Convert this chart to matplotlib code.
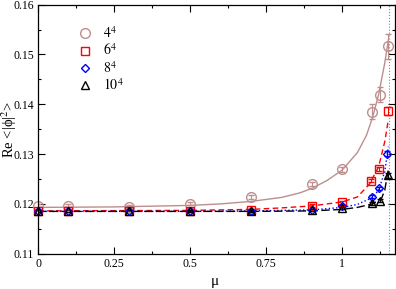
import numpy as np
import matplotlib
matplotlib.use("Agg")
import matplotlib.pyplot as plt
from matplotlib.ticker import MultipleLocator

plt.rcParams['font.family'] = ['Liberation Serif', 'DejaVu Serif']
plt.rcParams['mathtext.fontset'] = 'stix'

# data points
mu_4 = [0.0, 0.1, 0.3, 0.5, 0.7, 0.9, 1.0, 1.099, 1.124, 1.149]
y_4 = [0.1196, 0.1196, 0.1194, 0.1200, 0.1214, 0.1239, 0.1270, 0.1385, 0.1419, 0.1516]
e_4 = [0.0003, 0.0003, 0.0003, 0.0003, 0.0004, 0.0004, 0.0005, 0.0015, 0.0015, 0.0025]

mu_6 = [0.0, 0.1, 0.3, 0.5, 0.7, 0.9, 1.0, 1.094, 1.121, 1.149]
y_6 = [0.1185, 0.1185, 0.1185, 0.1186, 0.1188, 0.1196, 0.1203, 0.1247, 0.1271, 0.1387]
e_6 = [0.0002, 0.0002, 0.0002, 0.0002, 0.0002, 0.0003, 0.0003, 0.0004, 0.0004, 0.0008]

mu_8 = [0.0, 0.1, 0.3, 0.5, 0.7, 0.9, 1.0, 1.099, 1.121, 1.148]
y_8 = [0.1185, 0.1185, 0.1185, 0.1185, 0.1186, 0.1187, 0.1195, 0.1214, 0.1231, 0.1301]
e_8 = [0.0002, 0.0002, 0.0002, 0.0002, 0.0002, 0.0002, 0.0002, 0.0003, 0.0003, 0.0005]

mu_10 = [0.0, 0.1, 0.3, 0.5, 0.7, 0.9, 1.0, 1.099, 1.124, 1.149]
y_10 = [0.1185, 0.1185, 0.1185, 0.1185, 0.1186, 0.1187, 0.1192, 0.1201, 0.1206, 0.1258]
e_10 = [0.0002, 0.0002, 0.0002, 0.0002, 0.0002, 0.0002, 0.0002, 0.0003, 0.0003, 0.0005]

# fit curves
fit_mu_4 = [0.0, 0.25, 0.5, 0.6, 0.7, 0.8, 0.86, 0.9, 0.95, 1.0, 1.05, 1.08, 1.1, 1.12, 1.14, 1.152]
fit_y_4 = [0.1193, 0.1194, 0.1197, 0.1200, 0.1205, 0.1213, 0.1222, 0.1231, 0.1247, 0.1268,
           0.1303, 0.1338, 0.1374, 0.1420, 0.1483, 0.1530]

fit_mu_6 = [0.0, 0.5, 0.7, 0.8, 0.9, 1.0, 1.05, 1.09, 1.12, 1.14, 1.152]
fit_y_6 = [0.1186, 0.1187, 0.1189, 0.1192, 0.1196, 0.1204, 0.1214, 0.1240, 0.1275, 0.1325, 0.1370]

fit_mu_8 = [0.0, 0.5, 0.7, 0.9, 1.0, 1.05, 1.1, 1.12, 1.14, 1.152]
fit_y_8 = [0.1185, 0.1185, 0.1186, 0.1188, 0.1193, 0.1199, 0.1213, 0.1228, 0.1265, 0.1315]

fit_mu_10 = [0.0, 0.5, 0.7, 0.9, 1.0, 1.05, 1.1, 1.13, 1.14, 1.152]
fit_y_10 = [0.1185, 0.1185, 0.1185, 0.1186, 0.1189, 0.1193, 0.1200, 0.1212, 0.1228, 0.1270]

mu_c = 1.155
labels = ['$4^4$', '$6^4$', '$8^4$', '$10^4$']
colors = ['#bc8f8f', '#ff0000', '#0000ff', '#000000']

fig = plt.figure(figsize=(3.96, 2.89), dpi=100)
ax = fig.add_axes([0.096, 0.122, 0.901, 0.862])

ax.plot(fit_mu_4, fit_y_4, '-', color=colors[0], lw=1.0)
ax.plot(fit_mu_6, fit_y_6, '--', color=colors[1], lw=1.0, dashes=(4, 2.5))
ax.plot(fit_mu_8, fit_y_8, ':', color=colors[2], lw=1.0)
ax.plot(fit_mu_10, fit_y_10, '--', color=colors[3], lw=1.0, dashes=(6, 2.5))

sets = [(mu_4, y_4, e_4, 'o', 7), (mu_6, y_6, e_6, 's', 5.5),
        (mu_8, y_8, e_8, 'D', 4.5), (mu_10, y_10, e_10, '^', 5.5)]
for (m, y, e, mk, ms), c, lab in zip(sets, colors, labels):
    eb = ax.errorbar(m, y, yerr=e, fmt=mk, ms=ms, mfc='none', mec=c, mew=1.0,
                     ecolor=c, elinewidth=0.8, capsize=2.5, capthick=0.8, label=lab)
    eb.lines[0].set_clip_on(False)

ax.axvline(mu_c, color='#888888', ls=':', lw=0.8)

ax.set_xlim(0, 1.173)
ax.set_ylim(0.11, 0.16)
ax.xaxis.set_minor_locator(MultipleLocator(0.125))
ax.yaxis.set_minor_locator(MultipleLocator(0.005))
ax.set_xticks([0, 0.25, 0.5, 0.75, 1])
ax.set_xticklabels(['0', '0.25', '0.5', '0.75', '1'])
ax.set_yticks([0.11, 0.12, 0.13, 0.14, 0.15, 0.16])
ax.set_yticklabels(['0.11', '0.12', '0.13', '0.14', '0.15', '0.16'])
ax.tick_params(which='both', direction='in', top=True, right=True, labelsize=8.5, pad=3)
ax.tick_params(which='major', length=5, width=0.8)
ax.tick_params(which='minor', length=2.5, width=0.8)
for s in ax.spines.values():
    s.set_linewidth(0.9)

ax.set_xlabel('μ', fontsize=11)
ax.xaxis.set_label_coords(0.495, -0.085)
ax.set_ylabel('Re <|ϕ|$^2$>', fontsize=10.5)
ax.yaxis.set_label_coords(-0.053, 0.5)

handles, labs = ax.get_legend_handles_labels()
handles = [h[0] for h in handles]
ax.legend(handles, labs, loc='upper left', bbox_to_anchor=(0.09, 0.95), frameon=False,
          fontsize=10, handletextpad=0.8, labelspacing=0.1, handlelength=1.0,
          borderaxespad=0.2)

fig.savefig('out.png', dpi=100)
